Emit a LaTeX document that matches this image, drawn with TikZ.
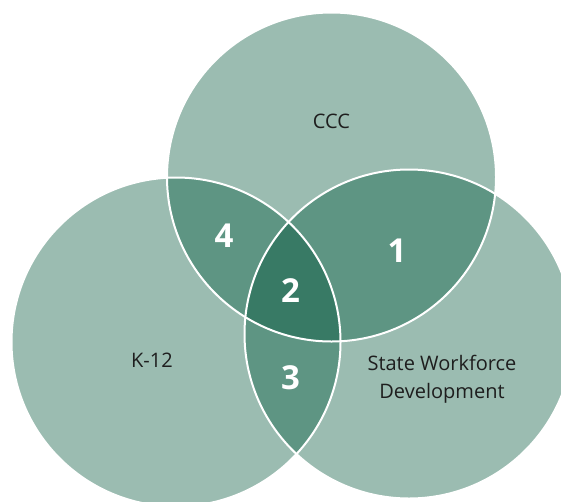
\documentclass[tikz,border=0pt]{standalone}
\usepackage{fontspec}
\setmainfont{Open Sans}
\definecolor{vlight}{RGB}{155,188,177}
\definecolor{vmid}{RGB}{94,149,131}
\definecolor{vdark}{RGB}{56,122,101}
\definecolor{vtext}{RGB}{30,30,30}
\begin{document}
\begin{tikzpicture}[x=1pt,y=-1pt,
  lbl/.style={text=vtext,font=\fontsize{20}{28}\selectfont,align=center,inner sep=0pt},
  num/.style={text=white,font=\fontsize{33}{38}\selectfont\bfseries,inner sep=0pt},
  rim/.style={draw=white,line width=2pt}]
\useasboundingbox (0,0) rectangle (561,501);
\def\R{164.5pt}
\coordinate (cA) at (331.5,177);  % CCC
\coordinate (cB) at (176,342);    % K-12
\coordinate (cC) at (409,334);    % State Workforce Development
% base circles
\fill[vlight] (cA) circle[radius=\R];
\fill[vlight] (cB) circle[radius=\R];
\fill[vlight] (cC) circle[radius=\R];
% pairwise overlaps
\begin{scope}
  \clip (cA) circle[radius=\R];
  \fill[vmid] (cC) circle[radius=\R];
  \fill[vmid] (cB) circle[radius=\R];
\end{scope}
\begin{scope}
  \clip (cB) circle[radius=\R];
  \fill[vmid] (cC) circle[radius=\R];
\end{scope}
% triple overlap
\begin{scope}
  \clip (cA) circle[radius=\R];
  \clip (cB) circle[radius=\R];
  \fill[vdark] (cC) circle[radius=\R];
\end{scope}
% white rims
\draw[rim] (cA) circle[radius=\R];
\draw[rim] (cB) circle[radius=\R];
\draw[rim] (cC) circle[radius=\R];
% labels
\node[lbl] (tccc) at (331.5,121) {CCC};
\node[lbl] (tk12) at (152,360) {K-12};
\node[lbl] (tswd) at (442,379) {State Workforce\\Development};
\node[num] (n4) at (224,236) {4};
\node[num] (n1) at (397,251) {1};
\node[num] (n2) at (290.5,291) {2};
\node[num] (n3) at (290.5,378) {3};
\end{tikzpicture}
\end{document}
